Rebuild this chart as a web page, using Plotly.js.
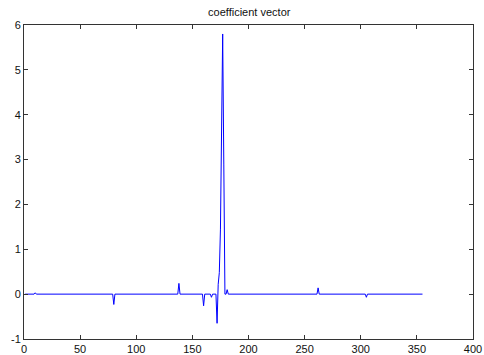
<!DOCTYPE html>
<html>
<head>
<meta charset="utf-8">
<script src="https://cdn.plot.ly/plotly-3.0.1.min.js"></script>
<style>html,body{margin:0;padding:0;background:#fff;}#chart{width:484px;height:355px;}</style>
</head>
<body>
<div id="chart"></div>
<script>
// Coefficient index (sparse breakpoints) and value
var idx = [1, 9, 10, 11, 79, 80, 81, 137, 138, 139, 159, 160, 161, 166, 167, 168, 171, 172, 173, 174, 175, 176, 177, 178, 179, 180, 181, 182, 261, 262, 263, 304, 305, 306, 355];
var coef = [0, 0, 0.03, 0, 0, -0.23, 0, 0, 0.24, 0, 0, -0.26, 0, 0, -0.07, 0, 0, -0.65, 0.22, 0.48, 1.45, 4.35, 5.8, 2.9, 0, 0, 0.1, 0, 0, 0.14, 0, 0, -0.07, 0, 0];
var xTicks = [0, 50, 100, 150, 200, 250, 300, 350, 400];
var yTicks = [-1, 0, 1, 2, 3, 4, 5, 6];

var font = {family: 'Liberation Sans, Arial, Helvetica, sans-serif', size: 11, color: '#111'};
var axisCommon = {
  showline: true, mirror: 'ticks', linecolor: '#333', linewidth: 1,
  ticks: 'inside', ticklen: 4, tickcolor: '#333', tickwidth: 1,
  showgrid: false, zeroline: false, tickfont: font, tickmode: 'array'
};
var layout = {
  width: 484, height: 355,
  margin: {l: 24, r: 11, t: 25, b: 16},
  paper_bgcolor: '#fff', plot_bgcolor: '#fff',
  showlegend: false,
  title: {text: 'coefficient vector', font: font, x: 0.515, xanchor: 'center', y: 0.965, yanchor: 'middle'},
  xaxis: Object.assign({}, axisCommon, {range: [0, 400], tickvals: xTicks, ticktext: xTicks.map(String)}),
  yaxis: Object.assign({}, axisCommon, {range: [-1, 6], tickvals: yTicks, ticktext: yTicks.map(String)})
};
Plotly.newPlot('chart', [{
  x: idx, y: coef, type: 'scatter', mode: 'lines',
  line: {color: '#0000ff', width: 1}
}], layout, {staticPlot: true, displayModeBar: false});
</script>
</body>
</html>
